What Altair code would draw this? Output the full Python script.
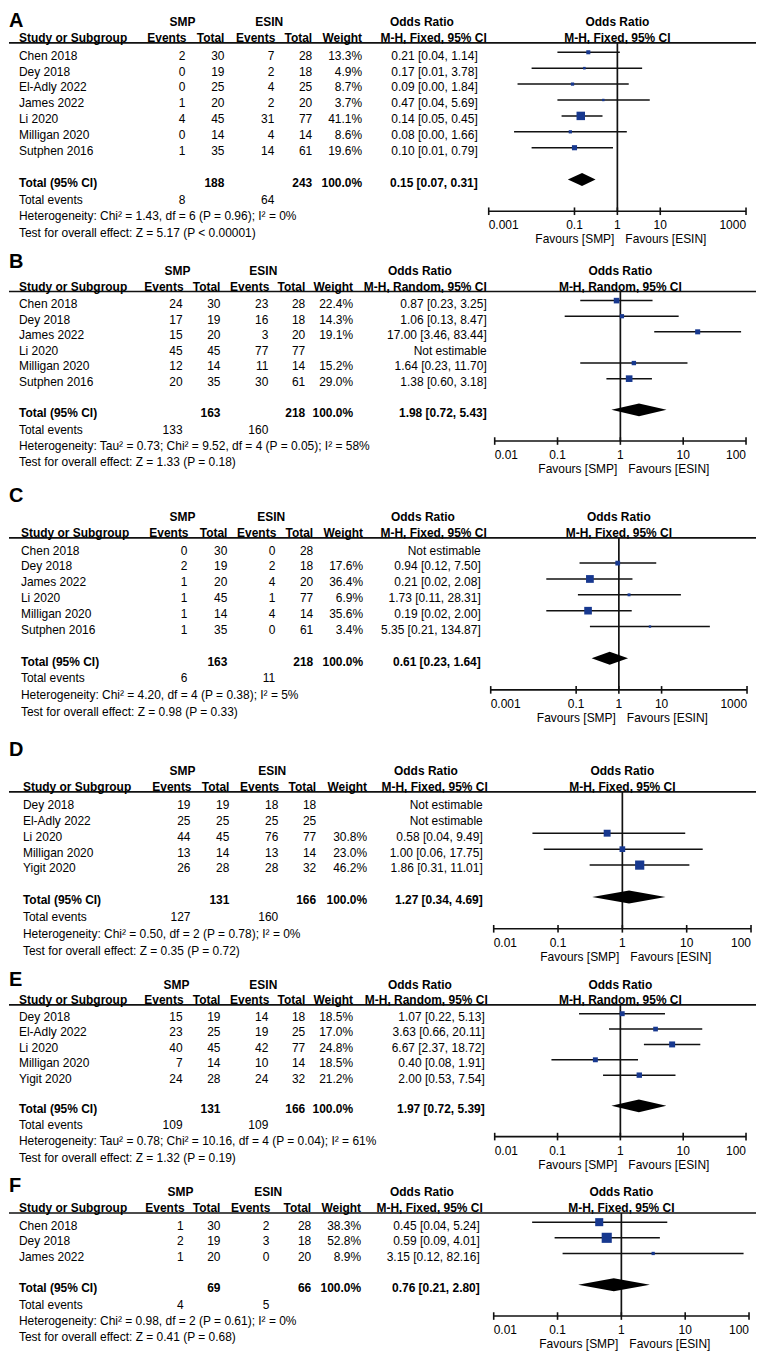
import altair as alt
import pandas as pd

FONT = "Liberation Sans"
BLUE = "#17388f"
INK = "#111111"
SY = 1.0
W = 749

# ---------------- Panel A ----------------
A_study = ["Chen 2018", "Dey 2018", "El-Adly 2022", "James 2022", "Li 2020", "Milligan 2020", "Sutphen 2016"]
A_e1 = [2, 0, 0, 1, 4, 0, 1]
A_t1 = [30, 19, 25, 20, 45, 14, 35]
A_e2 = [7, 2, 4, 2, 31, 4, 14]
A_t2 = [28, 18, 25, 20, 77, 14, 61]
A_w = [13.3, 4.9, 8.7, 3.7, 41.1, 8.6, 19.6]
A_or = [0.21, 0.17, 0.09, 0.47, 0.14, 0.08, 0.10]
A_lo = [0.04, 0.01, 0.0047, 0.04, 0.05, 0.0039, 0.01]   # printed "0.00" values
A_hi = [1.14, 3.78, 1.84, 5.69, 0.45, 1.66, 0.79]
A_tot = [188, 243]
A_tot_or = [0.15, 0.07, 0.31]
A_tot_ev = [8, 64]
A_het = "Heterogeneity: Chi² = 1.43, df = 6 (P = 0.96); I² = 0%"
A_test = "Test for overall effect: Z = 5.17 (P < 0.00001)"
A_ticks = [0.001, 0.1, 1, 10, 1000]

# ---------------- Panel B ----------------
B_study = ["Chen 2018", "Dey 2018", "James 2022", "Li 2020", "Milligan 2020", "Sutphen 2016"]
B_e1 = [24, 17, 15, 45, 12, 20]
B_t1 = [30, 19, 20, 45, 14, 35]
B_e2 = [23, 16, 3, 77, 11, 30]
B_t2 = [28, 18, 20, 77, 14, 61]
B_w = [22.4, 14.3, 19.1, None, 15.2, 29.0]
B_or = [0.87, 1.06, 17.00, None, 1.64, 1.38]
B_lo = [0.23, 0.13, 3.46, None, 0.23, 0.60]
B_hi = [3.25, 8.47, 83.44, None, 11.70, 3.18]
B_tot = [163, 218]
B_tot_or = [1.98, 0.72, 5.43]
B_tot_ev = [133, 160]
B_het = "Heterogeneity: Tau² = 0.73; Chi² = 9.52, df = 4 (P = 0.05); I² = 58%"
B_test = "Test for overall effect: Z = 1.33 (P = 0.18)"
B_ticks = [0.01, 0.1, 1, 10, 100]

# ---------------- Panel C ----------------
C_study = ["Chen 2018", "Dey 2018", "James 2022", "Li 2020", "Milligan 2020", "Sutphen 2016"]
C_e1 = [0, 2, 1, 1, 1, 1]
C_t1 = [30, 19, 20, 45, 14, 35]
C_e2 = [0, 2, 4, 1, 4, 0]
C_t2 = [28, 18, 20, 77, 14, 61]
C_w = [None, 17.6, 36.4, 6.9, 35.6, 3.4]
C_or = [None, 0.94, 0.21, 1.73, 0.19, 5.35]
C_lo = [None, 0.12, 0.02, 0.11, 0.02, 0.21]
C_hi = [None, 7.50, 2.08, 28.31, 2.00, 134.87]
C_tot = [163, 218]
C_tot_or = [0.61, 0.23, 1.64]
C_tot_ev = [6, 11]
C_het = "Heterogeneity: Chi² = 4.20, df = 4 (P = 0.38); I² = 5%"
C_test = "Test for overall effect: Z = 0.98 (P = 0.33)"
C_ticks = [0.001, 0.1, 1, 10, 1000]

# ---------------- Panel D ----------------
D_study = ["Dey 2018", "El-Adly 2022", "Li 2020", "Milligan 2020", "Yigit 2020"]
D_e1 = [19, 25, 44, 13, 26]
D_t1 = [19, 25, 45, 14, 28]
D_e2 = [18, 25, 76, 13, 28]
D_t2 = [18, 25, 77, 14, 32]
D_w = [None, None, 30.8, 23.0, 46.2]
D_or = [None, None, 0.58, 1.00, 1.86]
D_lo = [None, None, 0.04, 0.06, 0.31]
D_hi = [None, None, 9.49, 17.75, 11.01]
D_tot = [131, 166]
D_tot_or = [1.27, 0.34, 4.69]
D_tot_ev = [127, 160]
D_het = "Heterogeneity: Chi² = 0.50, df = 2 (P = 0.78); I² = 0%"
D_test = "Test for overall effect: Z = 0.35 (P = 0.72)"
D_ticks = [0.01, 0.1, 1, 10, 100]

# ---------------- Panel E ----------------
E_study = ["Dey 2018", "El-Adly 2022", "Li 2020", "Milligan 2020", "Yigit 2020"]
E_e1 = [15, 23, 40, 7, 24]
E_t1 = [19, 25, 45, 14, 28]
E_e2 = [14, 19, 42, 10, 24]
E_t2 = [18, 25, 77, 14, 32]
E_w = [18.5, 17.0, 24.8, 18.5, 21.2]
E_or = [1.07, 3.63, 6.67, 0.40, 2.00]
E_lo = [0.22, 0.66, 2.37, 0.08, 0.53]
E_hi = [5.13, 20.11, 18.72, 1.91, 7.54]
E_tot = [131, 166]
E_tot_or = [1.97, 0.72, 5.39]
E_tot_ev = [109, 109]
E_het = "Heterogeneity: Tau² = 0.78; Chi² = 10.16, df = 4 (P = 0.04); I² = 61%"
E_test = "Test for overall effect: Z = 1.32 (P = 0.19)"
E_ticks = [0.01, 0.1, 1, 10, 100]

# ---------------- Panel F ----------------
F_study = ["Chen 2018", "Dey 2018", "James 2022"]
F_e1 = [1, 2, 1]
F_t1 = [30, 19, 20]
F_e2 = [2, 3, 0]
F_t2 = [28, 18, 20]
F_w = [38.3, 52.8, 8.9]
F_or = [0.45, 0.59, 3.15]
F_lo = [0.04, 0.09, 0.12]
F_hi = [5.24, 4.01, 82.16]
F_tot = [69, 66]
F_tot_or = [0.76, 0.21, 2.80]
F_tot_ev = [4, 5]
F_het = "Heterogeneity: Chi² = 0.98, df = 2 (P = 0.61); I² = 0%"
F_test = "Test for overall effect: Z = 0.41 (P = 0.68)"
F_ticks = [0.01, 0.1, 1, 10, 100]

PANELS = [
    ("A", "Fixed", A_study, A_e1, A_t1, A_e2, A_t2, A_w, A_or, A_lo, A_hi, A_tot, A_tot_or, A_tot_ev, A_het, A_test, A_ticks),
    ("B", "Random", B_study, B_e1, B_t1, B_e2, B_t2, B_w, B_or, B_lo, B_hi, B_tot, B_tot_or, B_tot_ev, B_het, B_test, B_ticks),
    ("C", "Fixed", C_study, C_e1, C_t1, C_e2, C_t2, C_w, C_or, C_lo, C_hi, C_tot, C_tot_or, C_tot_ev, C_het, C_test, C_ticks),
    ("D", "Fixed", D_study, D_e1, D_t1, D_e2, D_t2, D_w, D_or, D_lo, D_hi, D_tot, D_tot_or, D_tot_ev, D_het, D_test, D_ticks),
    ("E", "Random", E_study, E_e1, E_t1, E_e2, E_t2, E_w, E_or, E_lo, E_hi, E_tot, E_tot_or, E_tot_ev, E_het, E_test, E_ticks),
    ("F", "Fixed", F_study, F_e1, F_t1, F_e2, F_t2, F_w, F_or, F_lo, F_hi, F_tot, F_tot_or, F_tot_ev, F_het, F_test, F_ticks),
]

# layout (reference-pixel geometry, per panel)
LAYOUT = {
    "A": dict(top=8, bottom=244, row0=51, pitch=15.95, letter=-2.2, name=18, e1=185, t1=224, e2=274, t2=312, w=362, ci=478, mh=487, smp=182, esin=269, orc=422, ax=(489, 747)),
    "B": dict(top=244, bottom=477, row0=300, pitch=15.65, letter=-2.68, name=18, e1=182, t1=220, e2=268, t2=305, w=353, ci=487, mh=487, smp=177, esin=263, orc=420, ax=(495, 747)),
    "C": dict(top=477, bottom=730, row0=547.3, pitch=15.9, letter=-3.42, name=20, e1=187, t1=227, e2=275, t2=313, w=363, ci=481, mh=487, smp=182, esin=271, orc=423, ax=(491, 748)),
    "D": dict(top=730, bottom=964, row0=802, pitch=16.0, letter=-3.4, name=22, e1=190, t1=229, e2=278, t2=316, w=367, ci=483, mh=488, smp=182, esin=272, orc=426, ax=(494, 752)),
    "E": dict(top=964, bottom=1173, row0=1015, pitch=15.4, letter=-2.4, name=18, e1=182, t1=220, e2=268, t2=305, w=353, ci=485, mh=488, smp=176, esin=263, orc=420, ax=(495, 747)),
    "F": dict(top=1173, bottom=1349, row0=1224, pitch=15.7, letter=-2.5, name=18, e1=183, t1=220, e2=269, t2=311, w=361, ci=480, mh=483, smp=180, esin=268, orc=422, ax=(494, 750)),
}


def X(r):
    return round(max(0.0, r - 8), 2)


def ci_label(o, l, h):
    return f"{o:.2f} [{l:.2f}, {h:.2f}]"


def build(p):
    (letter, method, study, e1, t1, e2, t2, w, orr, lo, hi, tot, tot_or, tot_ev, het, test, ticks) = p
    g = LAYOUT[letter]
    k = len(study)
    pitch = g["pitch"]
    H = round((g["bottom"] - g["top"]) * SY, 2)
    y0 = (g["row0"] - g["top"]) * SY
    ys = alt.Scale(domain=[0, 10], range=[round(y0, 2), round(y0 + 10 * pitch * SY, 2)], nice=False, zero=False)
    xs = alt.Scale(type="log", domain=[ticks[0], ticks[-1]], range=[X(g["ax"][0]), X(g["ax"][1])], nice=False)
    Yf = lambda f: alt.Y(f, scale=ys, axis=None)
    Xf = lambda f: alt.X(f, scale=xs, axis=None)

    H1, H2, UL = -2.12, -1.1, -0.8
    T = k + 1
    EV, HET, TEST = k + 2.05, k + 3.1, k + 4.15
    AXL = k + 2.78
    off = -3.4 / pitch
    mh = f"M-H, {method}, 95% CI"

    items = []

    def add(line, label, xr, align, bold=False, size=12.0):
        items.append(dict(line=float(line), label=str(label), x=X(xr), align=align, bold=bold, size=size))

    add(g["letter"], letter, 4, "left", True, 20.0)
    add(H1, "SMP", g["smp"], "center", True)
    add(H1, "ESIN", g["esin"], "center", True)
    add(H1, "Odds Ratio", g["orc"], "center", True)
    add(H2, "Study or Subgroup", g["name"], "left", True)
    add(H2, "Events", g["e1"] + 1, "right", True)
    add(H2, "Total", g["t1"], "right", True)
    add(H2, "Events", g["e2"] + 1, "right", True)
    add(H2, "Total", g["t2"], "right", True)
    add(H2, "Weight", g["w"], "right", True)
    add(H2, mh, g["mh"], "right", True)
    for i in range(k):
        add(i, study[i], g["name"], "left")
        add(i, e1[i], g["e1"], "right")
        add(i, t1[i], g["t1"], "right")
        add(i, e2[i], g["e2"], "right")
        add(i, t2[i], g["t2"], "right")
        if w[i] is None:
            add(i, "Not estimable", g["ci"], "right")
        else:
            add(i, f"{w[i]:.1f}%", g["w"], "right")
            add(i, ci_label(orr[i], lo[i], hi[i]), g["ci"], "right")
    add(T, "Total (95% CI)", g["name"], "left", True)
    add(T, tot[0], g["t1"], "right", True)
    add(T, tot[1], g["t2"], "right", True)
    add(T, "100.0%", g["w"], "right", True)
    add(T, ci_label(*tot_or), g["ci"], "right", True)
    add(EV, "Total events", g["name"], "left")
    add(EV, tot_ev[0], g["e1"], "right")
    add(EV, tot_ev[1], g["e2"], "right")
    add(HET, het, g["name"], "left")
    add(TEST, test, g["name"], "left")

    layers = []
    # header underline
    layers.append(alt.Chart(pd.DataFrame({"line": [UL]})).mark_rule(color=INK, strokeWidth=1.7).encode(
        x=alt.value(X(5)), x2=alt.value(W), y=Yf("line:Q")))

    df = pd.DataFrame(items)
    for (xv, align, bold, size), sub in df.groupby(["x", "align", "bold", "size"]):
        layers.append(alt.Chart(sub[["line", "label"]].reset_index(drop=True)).mark_text(
            align=str(align), baseline="middle", font=FONT, fontSize=float(size),
            fontWeight="bold" if bool(bold) else "normal", color="black").encode(
            x=alt.value(float(xv)), y=Yf("line:Q"), text="label:N"))

    # vertical line at OR = 1
    layers.append(alt.Chart(pd.DataFrame({"x": [1.0], "y": [UL], "y2": [AXL]})).mark_rule(
        color=INK, strokeWidth=1.7).encode(x=Xf("x:Q"), y=Yf("y:Q"), y2="y2:Q"))

    idx = [i for i in range(k) if w[i] is not None]
    est = pd.DataFrame({
        "line": [i + off for i in idx],
        "or": [orr[i] for i in idx],
        "lo": [lo[i] for i in idx],
        "hi": [hi[i] for i in idx],
        "w": [w[i] for i in idx],
    })
    layers.append(alt.Chart(est).mark_rule(color=INK, strokeWidth=1.5).encode(
        x=Xf("lo:Q"), x2="hi:Q", y=Yf("line:Q")))
    layers.append(alt.Chart(est).mark_square(color=BLUE, opacity=1, filled=True).encode(
        x=Xf("or:Q"), y=Yf("line:Q"),
        size=alt.Size("w:Q", scale=alt.Scale(type="pow", exponent=1.5, domain=[0, 50], range=[4, 95]), legend=None)))

    # diamond for pooled estimate
    hh = 6.5 / pitch
    L = T + off
    dm = pd.DataFrame({"x": [tot_or[1], tot_or[0], tot_or[2]], "y": [L, L - hh, L], "y2": [L, L + hh, L]})
    layers.append(alt.Chart(dm).mark_area(color="black", orient="vertical", opacity=1).encode(
        x=Xf("x:Q"), y=alt.Y("y:Q", scale=ys, axis=None, stack=None), y2="y2:Q"))

    # axis
    layers.append(alt.Chart(pd.DataFrame({"x": [ticks[0]], "x2": [ticks[-1]], "y": [AXL]})).mark_rule(
        color=INK, strokeWidth=1.6).encode(x=Xf("x:Q"), x2="x2:Q", y=Yf("y:Q")))
    th = 3.8 / pitch
    tk = pd.DataFrame({"x": ticks, "y": [AXL - th] * len(ticks), "y2": [AXL + th] * len(ticks),
                       "yl": [AXL] * len(ticks), "label": [f"{t:g}" for t in ticks]})
    layers.append(alt.Chart(tk).mark_rule(color=INK, strokeWidth=1.6).encode(
        x=Xf("x:Q"), y=Yf("y:Q"), y2="y2:Q"))
    n = len(ticks)
    for part, align in ((tk.iloc[:1], "left"), (tk.iloc[1:n - 1], "center"), (tk.iloc[n - 1:], "right")):
        layers.append(alt.Chart(part.reset_index(drop=True)).mark_text(
            font=FONT, fontSize=12, baseline="middle", align=align,
            dy=round(14 * SY, 2), color="black").encode(
            x=Xf("x:Q"), y=Yf("yl:Q"), text="label:N"))
    fav = pd.DataFrame({"x": [1.0], "y": [AXL], "a": ["Favours [SMP]"], "b": ["Favours [ESIN]"]})
    layers.append(alt.Chart(fav).mark_text(font=FONT, fontSize=12, baseline="middle", align="right",
                                           dy=round(28 * SY, 2), dx=-3, color="black").encode(
        x=Xf("x:Q"), y=Yf("y:Q"), text="a:N"))
    layers.append(alt.Chart(fav).mark_text(font=FONT, fontSize=12, baseline="middle", align="left",
                                           dy=round(28 * SY, 2), dx=8, color="black").encode(
        x=Xf("x:Q"), y=Yf("y:Q"), text="b:N"))
    # forest header
    fh = pd.DataFrame({"x": [1.0, 1.0], "y": [H1, H2], "label": ["Odds Ratio", mh]})
    layers.append(alt.Chart(fh).mark_text(font=FONT, fontSize=12, fontWeight="bold", baseline="middle",
                                          align="center", color="black").encode(
        x=Xf("x:Q"), y=Yf("y:Q"), text="label:N"))

    return alt.layer(*layers).properties(width=W, height=H)


panels = [build(p) for p in PANELS]
chart = alt.vconcat(*panels, spacing=0, bounds="flush").resolve_scale(
    x="independent", y="independent", size="independent"
).properties(padding=0, background="white").configure_view(strokeWidth=0)

chart.save("out.html", embed_options={"renderer": "svg", "actions": False})
